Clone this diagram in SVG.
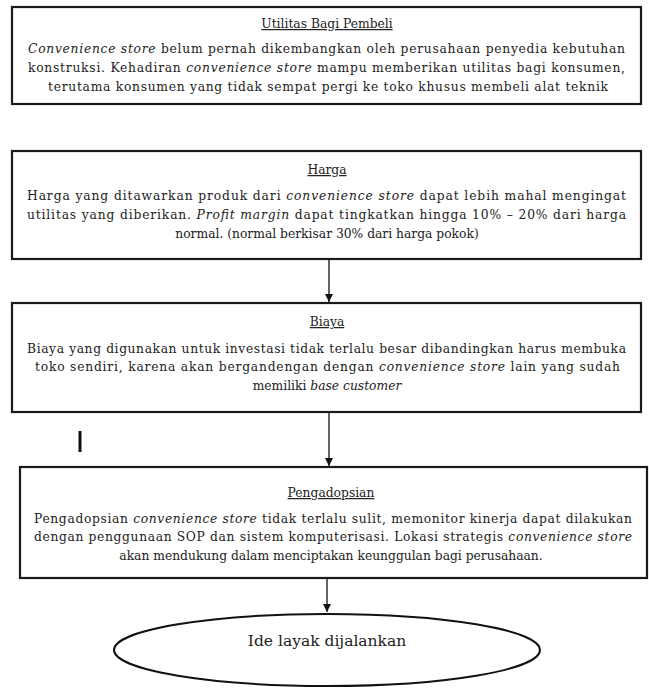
<svg xmlns="http://www.w3.org/2000/svg" width="649" height="689" viewBox="0 0 649 689">
<style>
.box{fill:#fff;stroke:#1a1a1a;stroke-width:2.2}
.t{font-family:"DejaVu Serif","Liberation Serif",serif;font-size:12.3px;fill:#222}
.h{font-family:"DejaVu Serif","Liberation Serif",serif;font-size:12.3px;fill:#222;text-decoration:underline;text-anchor:middle}
.c{text-anchor:middle}
.i{font-style:italic}
.ln{stroke:#111;stroke-width:1.3;fill:none}
</style>
<defs>
<marker id="ah" markerWidth="10" markerHeight="10" refX="8" refY="4" orient="auto" markerUnits="userSpaceOnUse">
<path d="M0,0 L8,4 L0,8 z" fill="#111"/>
</marker>
</defs>
<rect width="649" height="689" fill="#fff"/>
<g id="connectors">
<line class="ln" x1="329" y1="259" x2="329" y2="302" marker-end="url(#ah)"/>
<line class="ln" x1="329" y1="412" x2="329" y2="466" marker-end="url(#ah)"/>
<line class="ln" x1="327" y1="578" x2="327" y2="612" marker-end="url(#ah)"/>
</g>
<g id="node-utilitas">
<rect class="box" x="12" y="7" width="629" height="97"/>
<text class="h" x="327" y="28">Utilitas Bagi Pembeli</text>
<text class="t" x="28" y="53" textLength="597" lengthAdjust="spacing"><tspan class="i">Convenience store</tspan> belum pernah dikembangkan oleh perusahaan penyedia kebutuhan</text>
<text class="t" x="28" y="72" textLength="597" lengthAdjust="spacing">konstruksi. Kehadiran <tspan class="i">convenience store</tspan> mampu memberikan utilitas bagi konsumen,</text>
<text class="t" x="48" y="91" textLength="560" lengthAdjust="spacing">terutama konsumen yang tidak sempat pergi ke toko khusus membeli alat teknik</text>
</g>
<g id="node-harga">
<rect class="box" x="12" y="151" width="629" height="108"/>
<text class="h" x="327" y="174">Harga</text>
<text class="t" x="27" y="200" textLength="599" lengthAdjust="spacing">Harga yang ditawarkan produk dari <tspan class="i">convenience store</tspan> dapat lebih mahal mengingat</text>
<text class="t" x="27" y="219" textLength="599" lengthAdjust="spacing">utilitas yang diberikan. <tspan class="i">Profit margin</tspan> dapat tingkatkan hingga 10% – 20%  dari harga</text>
<text class="t c" x="327" y="238">normal. (normal berkisar 30% dari harga pokok)</text>
</g>
<g id="node-biaya">
<rect class="box" x="12" y="303" width="629" height="109"/>
<text class="h" x="327" y="326">Biaya</text>
<text class="t" x="27" y="353" textLength="599" lengthAdjust="spacing">Biaya yang digunakan untuk investasi tidak terlalu besar dibandingkan harus membuka</text>
<text class="t" x="35" y="371" textLength="585" lengthAdjust="spacing">toko sendiri, karena akan bergandengan dengan <tspan class="i">convenience store</tspan> lain yang sudah</text>
<text class="t c" x="327" y="390">memiliki <tspan class="i">base customer</tspan></text>
</g>
<line x1="80" y1="431" x2="80" y2="452" stroke="#111" stroke-width="3"/>
<g id="node-pengadopsian">
<rect class="box" x="20" y="467" width="627" height="111"/>
<text class="h" x="331" y="497">Pengadopsian</text>
<text class="t" x="34" y="523" textLength="598" lengthAdjust="spacing">Pengadopsian <tspan class="i">convenience store</tspan> tidak terlalu sulit, memonitor kinerja dapat dilakukan</text>
<text class="t" x="34" y="541" textLength="598" lengthAdjust="spacing">dengan penggunaan SOP dan sistem komputerisasi. Lokasi strategis <tspan class="i">convenience store</tspan></text>
<text class="t c" x="331" y="560">akan mendukung dalam menciptakan keunggulan bagi perusahaan.</text>
</g>
<g id="node-ide">
<ellipse cx="327" cy="650" rx="213" ry="36" fill="#fff" stroke="#111" stroke-width="2"/>
<text class="t c" x="327" y="646" style="font-size:15.5px">Ide layak dijalankan</text>
</g>
</svg>
